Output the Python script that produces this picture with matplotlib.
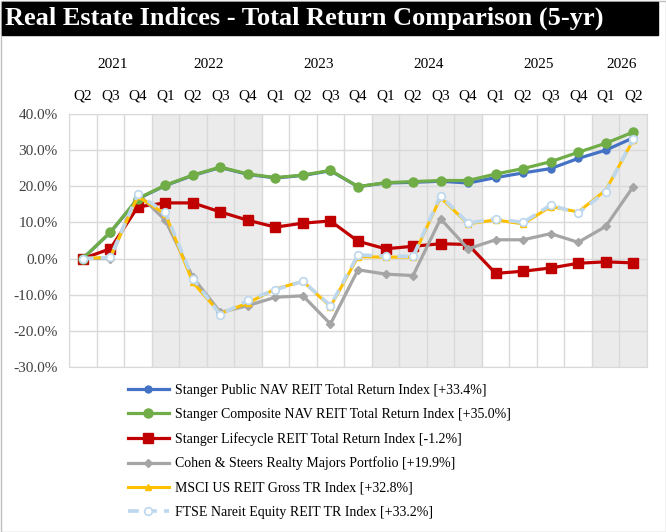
import matplotlib.pyplot as plt
from matplotlib.patches import Rectangle

plt.rcParams['font.family'] = ['Liberation Serif', 'DejaVu Serif']

# Quarterly axis, Q2 2021 .. Q2 2026
quarters = ["Q2", "Q3", "Q4",
            "Q1", "Q2", "Q3", "Q4",
            "Q1", "Q2", "Q3", "Q4",
            "Q1", "Q2", "Q3", "Q4",
            "Q1", "Q2", "Q3", "Q4",
            "Q1", "Q2"]
years = ["2021", "2022", "2023", "2024", "2025", "2026"]
year_first = [0, 3, 7, 11, 15, 19]   # index of first quarter of each year
year_last = [2, 6, 10, 14, 18, 20]
shaded_years = ["2022", "2024", "2026"]

# cumulative total return, %
public_nav = [0, 7.2, 16.5, 20.2, 23.0, 25.2, 23.3, 22.3, 23.0, 24.3, 19.9,
              20.9, 21.1, 21.4, 20.9, 22.4, 23.7, 24.9, 27.7, 30.0, 33.4]
composite_nav = [0, 7.3, 16.6, 20.3, 23.1, 25.3, 23.4, 22.4, 23.1, 24.4, 19.9,
                 21.0, 21.3, 21.6, 21.6, 23.4, 24.9, 26.8, 29.4, 31.9, 35.0]
lifecycle = [0, 2.7, 14.3, 15.4, 15.4, 12.9, 10.6, 8.7, 9.8, 10.4, 4.8,
             2.7, 3.4, 4.1, 3.9, -4.1, -3.5, -2.6, -1.3, -0.9, -1.2]
cohen_steers = [0, 0.0, 18.0, 10.6, -5.2, -14.9, -13.0, -10.7, -10.3, -18.1, -3.1,
                -4.3, -4.7, 11.0, 2.7, 5.2, 5.2, 6.9, 4.5, 8.9, 19.9]
msci = [0, 0.4, 17.2, 12.3, -6.6, -15.2, -12.3, -8.4, -6.3, -13.3, 0.5,
        0.4, 0.4, 16.9, 9.6, 10.7, 9.6, 14.4, 12.9, 18.9, 32.8]
ftse = [0, 0.3, 17.8, 12.8, -5.6, -15.5, -11.6, -8.6, -6.3, -13.0, 1.0,
        0.7, 0.6, 17.4, 9.8, 11.0, 10.0, 14.8, 12.6, 18.5, 33.2]

labels = ["Stanger Public NAV REIT Total Return Index [+33.4%]",
          "Stanger Composite NAV REIT Total Return Index [+35.0%]",
          "Stanger Lifecycle REIT Total Return Index [-1.2%]",
          "Cohen & Steers Realty Majors Portfolio [+19.9%]",
          "MSCI US REIT Gross TR Index [+32.8%]",
          "FTSE Nareit Equity REIT TR Index [+33.2%]"]

x = list(range(len(quarters)))

fig = plt.figure(figsize=(6.66, 5.32), dpi=100)
ax = fig.add_axes([69 / 666, 1 - 367 / 532, 578 / 666, 253 / 532])

# shaded years
for y, a, b in zip(years, year_first, year_last):
    if y in shaded_years:
        ax.axvspan(a - 0.5, b + 0.5, color='#EBEBEB', zorder=0, lw=0)

ax.plot(x, public_nav, color='#4472C4', lw=2.3, marker='o', ms=5, label=labels[0], zorder=3)
ax.plot(x, composite_nav, color='#70AD47', lw=2.3, marker='o', ms=6.5, label=labels[1], zorder=4)
ax.plot(x, lifecycle, color='#C00000', lw=2.3, marker='s', ms=7, label=labels[2], zorder=3)
ax.plot(x, cohen_steers, color='#A5A5A5', lw=2.3, marker='D', ms=4.5, label=labels[3], zorder=3)
ax.plot(x, msci, color='#FFC000', lw=2.2, marker='^', ms=4, label=labels[4], zorder=5)
ax.plot(x, ftse, color='#BDD7EE', lw=2.6, ls=(0, (3, 2)), marker='o', ms=5.5,
        mfc='white', mec='#BDD7EE', mew=1.2, label=labels[5], zorder=6)

ax.set_xlim(-0.5, len(quarters) - 0.5)
ax.set_ylim(-30, 40)
ax.set_yticks(range(-30, 41, 10))
ax.set_yticklabels([f"{v:.1f}%" for v in range(-30, 41, 10)], fontsize=11, color='#404040')

ax.set_xticks(x)
ax.set_xticklabels(quarters, fontsize=11)
ax.xaxis.tick_top()
ax.set_xticks([i - 0.5 for i in x] + [len(x) - 0.5], minor=True)
ax.tick_params(axis='x', which='both', length=0, pad=8.5)
ax.tick_params(axis='y', length=0, pad=8)

ax.grid(True, axis='y', color='#D9D9D9', lw=1)
ax.grid(True, axis='x', which='minor', color='#D9D9D9', lw=1)
ax.grid(False, axis='x', which='major')
ax.set_axisbelow(True)
for s in ax.spines.values():
    s.set_color('#D9D9D9')

# year labels above the quarters
for y, a, b in zip(years, year_first, year_last):
    ax.text((a + b) / 2 + 0.07, 53.6, y, ha='center', va='center',
            fontsize=11, clip_on=False)

# chart border
fig.patches.append(Rectangle((0.5 / 666, 0.5 / 532), 665 / 666, 531 / 532, transform=fig.transFigure,
                             fill=False, edgecolor='#BFBFBF', lw=1, zorder=0))

# title banner
fig.patches.append(Rectangle((2 / 666, 1 - 35 / 532), 656 / 666, 33 / 532,
                             transform=fig.transFigure, color='black', zorder=1))
fig.text(5 / 666, 1 - 18.5 / 532, "Real Estate Indices - Total Return Comparison (5-yr)",
         color='white', fontsize=19, fontweight='bold', va='center', ha='left')

fig.legend(loc='upper left', bbox_to_anchor=(122 / 666, 1 - 378 / 532), frameon=False,
           fontsize=10, handlelength=3.0, handletextpad=0.4, labelspacing=0.8,
           borderaxespad=0)

plt.savefig("out.png", dpi=100)
